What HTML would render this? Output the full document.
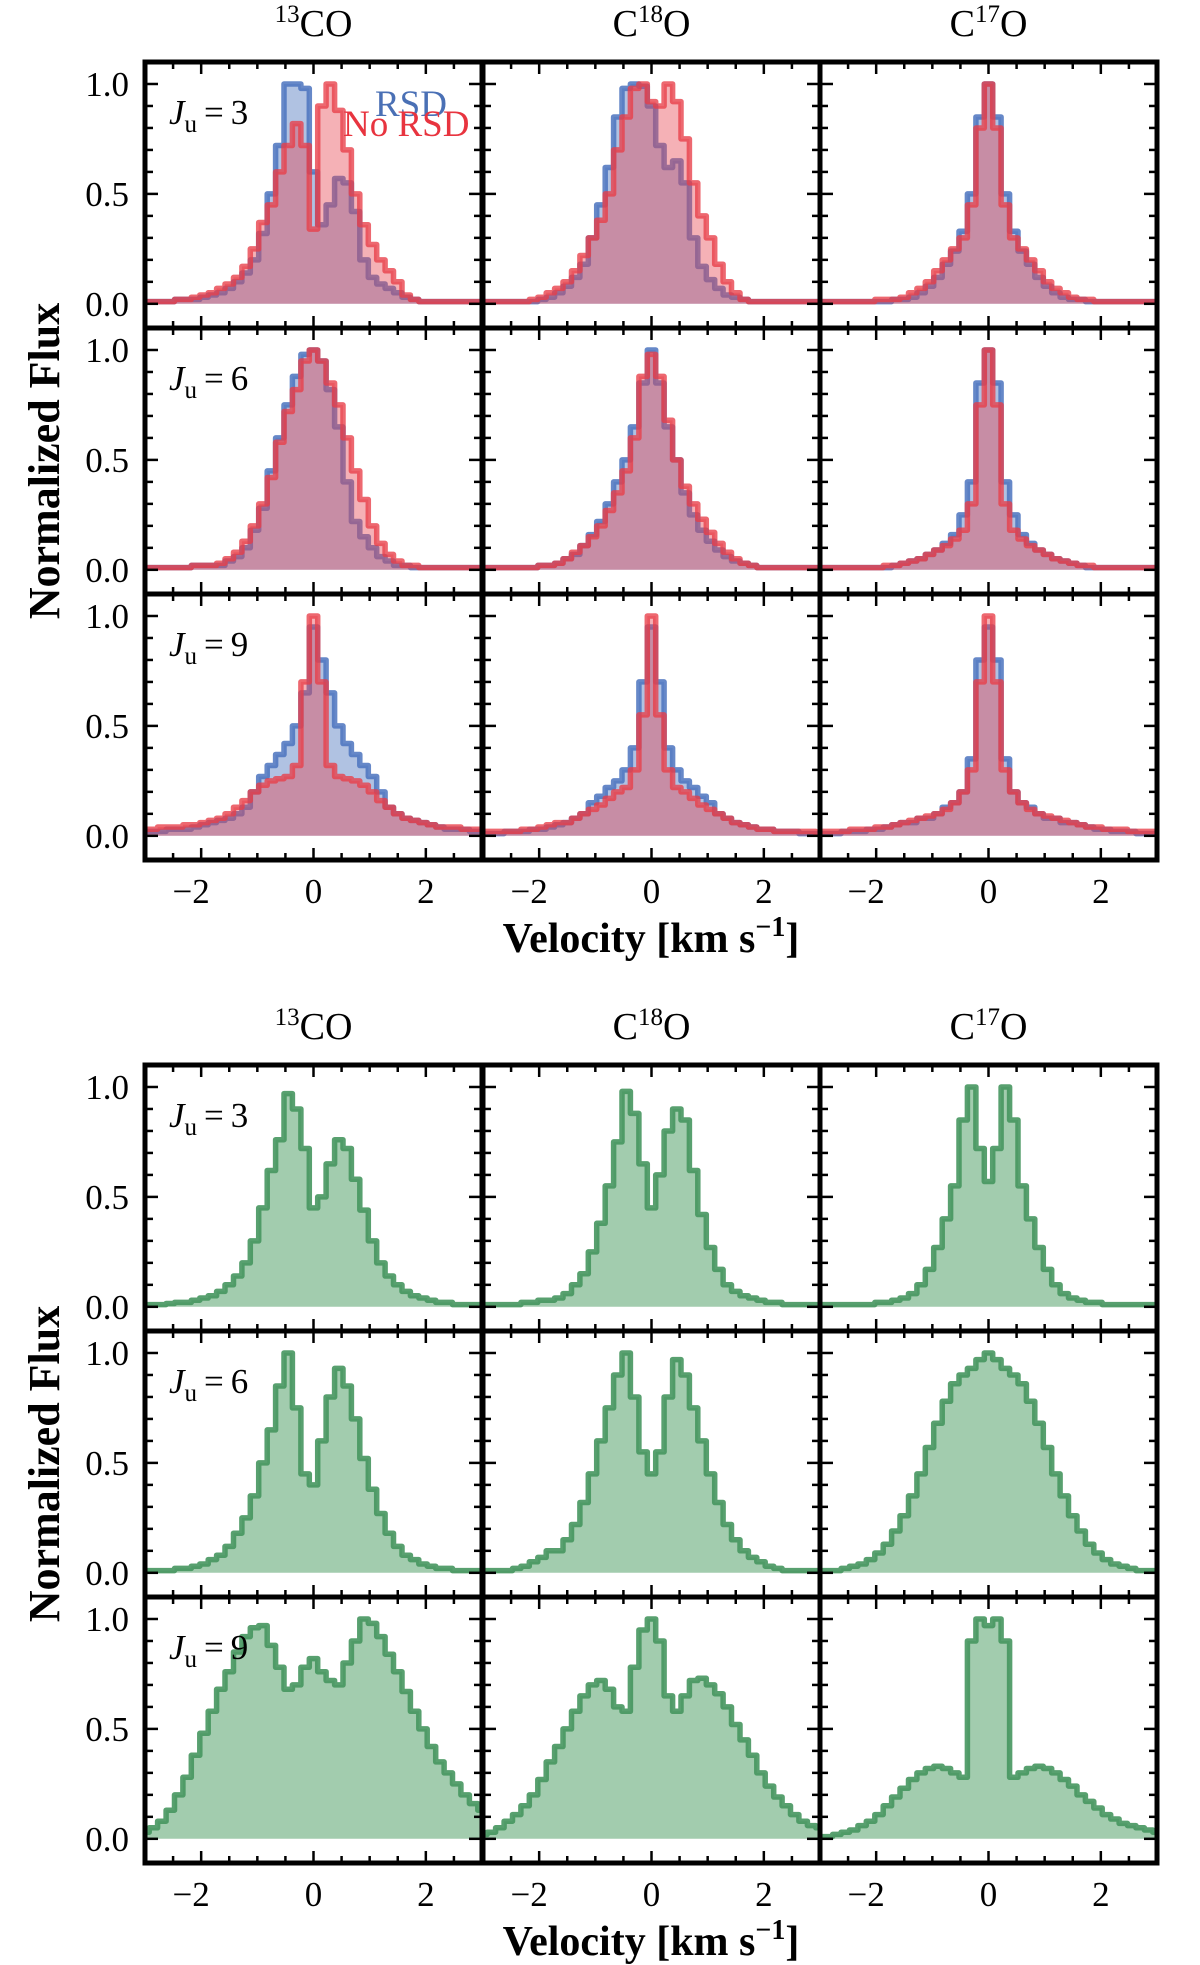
<!DOCTYPE html>
<html><head><meta charset="utf-8"><style>
html,body{margin:0;padding:0;background:#fff;}
svg{display:block;font-family:"Liberation Serif","DejaVu Serif",serif;}
</style></head><body>
<svg id="fig" width="1200" height="1965" viewBox="0 0 1200 1965" xmlns="http://www.w3.org/2000/svg"></svg>
<script>
// velocity bin centres: -3 .. 3 step 0.15 (41 bins)
const velocities = [-3,-2.85,-2.7,-2.55,-2.4,-2.25,-2.1,-1.95,-1.8,-1.65,-1.5,-1.35,-1.2,-1.05,-0.9,-0.75,-0.6,-0.45,-0.3,-0.15,0,0.15,0.3,0.45,0.6,0.75,0.9,1.05,1.2,1.35,1.5,1.65,1.8,1.95,2.1,2.25,2.4,2.55,2.7,2.85,3];
const species = ["13CO","C18O","C17O"];
const jLevels = ["3","6","9"];
const xTicks = [-2,0,2];
const yTicks = [0,0.5,1.0];
const yTickLabels = ["0.0","0.5","1.0"];

// Top block: RSD (blue) vs No RSD (red)
const rsd13co_j3 = [.01,.01,.01,.01,.02,.02,.02,.03,.04,.05,.07,.1,.14,.2,.32,.5,.72,1,1,.98,.6,.36,.45,.57,.55,.42,.2,.12,.09,.07,.05,.03,.02,.01,.01,.01,.01,.01,.01,.01,.01];
const nor13co_j3 = [.01,.01,.01,.01,.02,.02,.03,.04,.05,.07,.09,.12,.17,.25,.37,.45,.6,.72,.82,.72,.34,.9,1,.88,.7,.5,.36,.27,.2,.15,.1,.04,.02,.01,.01,.01,.01,.01,.01,.01,.01];
const rsdc18o_j3 = [.01,.01,.01,.01,.01,.01,.01,.02,.03,.05,.08,.12,.18,.3,.45,.62,.85,.98,1,.99,.9,.72,.62,.65,.55,.3,.17,.11,.07,.04,.03,.02,.01,.01,.01,.01,.01,.01,.01,.01,.01];
const norc18o_j3 = [.01,.01,.01,.01,.01,.01,.02,.03,.05,.07,.1,.15,.22,.3,.38,.5,.7,.85,.98,1,.92,.9,1,.92,.75,.55,.4,.3,.18,.1,.05,.02,.01,.01,.01,.01,.01,.01,.01,.01,.01];
const rsdc17o_j3 = [.01,.01,.01,.01,.01,.01,.01,.01,.01,.02,.02,.03,.05,.08,.12,.18,.24,.33,.5,.85,1,.85,.5,.33,.24,.18,.12,.08,.05,.03,.02,.02,.01,.01,.01,.01,.01,.01,.01,.01,.01];
const norc17o_j3 = [.01,.01,.01,.01,.01,.01,.01,.02,.02,.02,.03,.05,.07,.1,.15,.2,.25,.3,.45,.8,1,.8,.45,.3,.25,.2,.15,.1,.07,.05,.03,.02,.02,.01,.01,.01,.01,.01,.01,.01,.01];
const rsd13co_j6 = [.01,.01,.01,.01,.01,.01,.02,.02,.02,.02,.04,.06,.1,.18,.28,.45,.6,.75,.88,.98,1,.95,.82,.65,.4,.22,.15,.1,.06,.04,.02,.02,.01,.01,.01,.01,.01,.01,.01,.01,.01];
const nor13co_j6 = [.01,.01,.01,.01,.01,.01,.02,.02,.02,.03,.05,.08,.13,.2,.3,.42,.58,.72,.82,.95,1,.95,.85,.75,.6,.45,.32,.2,.12,.07,.04,.02,.02,.01,.01,.01,.01,.01,.01,.01,.01];
const rsdc18o_j6 = [.01,.01,.01,.01,.01,.01,.01,.02,.02,.03,.05,.07,.11,.16,.22,.3,.4,.5,.65,.85,1,.85,.65,.5,.35,.25,.18,.13,.09,.06,.04,.03,.02,.01,.01,.01,.01,.01,.01,.01,.01];
const norc18o_j6 = [.01,.01,.01,.01,.01,.01,.01,.02,.02,.03,.05,.08,.11,.15,.2,.27,.35,.45,.6,.88,.98,.88,.68,.5,.38,.3,.23,.17,.12,.08,.05,.03,.02,.01,.01,.01,.01,.01,.01,.01,.01];
const rsdc17o_j6 = [.01,.01,.01,.01,.01,.01,.01,.01,.01,.02,.03,.04,.05,.07,.09,.12,.16,.25,.4,.85,1,.85,.4,.25,.16,.12,.09,.07,.05,.04,.03,.02,.01,.01,.01,.01,.01,.01,.01,.01,.01];
const norc17o_j6 = [.01,.01,.01,.01,.01,.01,.01,.01,.02,.02,.03,.04,.05,.07,.09,.11,.14,.18,.3,.75,1,.75,.3,.18,.14,.11,.09,.07,.05,.04,.03,.02,.02,.01,.01,.01,.01,.01,.01,.01,.01];
const rsd13co_j9 = [.02,.02,.02,.03,.03,.03,.04,.05,.06,.07,.08,.1,.13,.2,.27,.32,.37,.42,.5,.65,.95,.8,.65,.5,.42,.37,.32,.27,.2,.13,.1,.08,.07,.06,.05,.04,.03,.03,.03,.02,.02];
const nor13co_j9 = [.03,.03,.04,.04,.04,.05,.05,.06,.07,.08,.1,.13,.16,.2,.23,.25,.26,.27,.32,.7,1,.7,.32,.27,.26,.25,.23,.2,.16,.13,.1,.08,.07,.06,.05,.04,.04,.04,.03,.03,.03];
const rsdc18o_j9 = [.01,.01,.01,.02,.02,.02,.03,.03,.04,.05,.06,.08,.1,.15,.18,.22,.25,.3,.4,.7,.95,.7,.4,.3,.25,.22,.18,.15,.1,.08,.06,.05,.04,.03,.03,.02,.02,.02,.01,.01,.01];
const norc18o_j9 = [.02,.02,.02,.02,.02,.03,.03,.04,.05,.06,.06,.08,.1,.12,.14,.17,.2,.22,.3,.55,1,.55,.3,.22,.2,.17,.14,.12,.1,.08,.06,.05,.04,.03,.03,.02,.02,.02,.02,.02,.01];
const rsdc17o_j9 = [.01,.01,.01,.02,.02,.02,.03,.03,.04,.05,.06,.06,.08,.08,.1,.13,.15,.2,.35,.8,.95,.8,.35,.2,.15,.13,.1,.08,.08,.06,.06,.05,.04,.03,.03,.02,.02,.02,.01,.01,.01];
const norc17o_j9 = [.02,.02,.02,.02,.03,.03,.03,.04,.04,.05,.06,.07,.08,.09,.1,.12,.15,.2,.3,.7,1,.7,.3,.2,.15,.12,.1,.09,.08,.07,.06,.05,.04,.04,.03,.03,.03,.02,.02,.02,.02];

// Bottom block: green profiles
const grn13co_j3 = [.01,.01,.01,.015,.02,.02,.03,.04,.05,.07,.1,.14,.2,.3,.45,.62,.76,.97,.9,.72,.45,.5,.65,.76,.72,.58,.44,.3,.2,.14,.1,.07,.05,.04,.03,.02,.02,.01,.01,.01,.01];
const grnc18o_j3 = [.01,.01,.01,.01,.01,.02,.02,.03,.03,.04,.06,.1,.15,.25,.38,.55,.75,.98,.88,.65,.45,.6,.8,.9,.85,.62,.42,.27,.17,.1,.07,.05,.04,.03,.02,.02,.01,.01,.01,.01,.01];
const grnc17o_j3 = [.01,.01,.01,.01,.01,.01,.01,.02,.02,.03,.04,.06,.1,.17,.27,.4,.55,.85,1,.72,.57,.72,1,.85,.55,.4,.27,.17,.1,.06,.04,.03,.02,.02,.01,.01,.01,.01,.01,.01,.01];
const grn13co_j6 = [.01,.01,.01,.01,.02,.02,.03,.04,.06,.08,.12,.18,.25,.35,.5,.65,.85,1,.75,.45,.4,.6,.8,.93,.85,.7,.52,.38,.27,.18,.12,.08,.06,.04,.03,.02,.02,.01,.01,.01,.01];
const grnc18o_j6 = [.01,.01,.01,.01,.02,.03,.05,.07,.1,.1,.15,.22,.32,.45,.6,.75,.9,1,.8,.55,.45,.55,.8,.97,.9,.75,.6,.45,.32,.22,.15,.1,.07,.05,.03,.02,.01,.01,.01,.01,.01];
const grnc17o_j6 = [.01,.01,.01,.02,.03,.04,.06,.09,.13,.19,.26,.35,.45,.57,.68,.78,.86,.9,.93,.97,1,.97,.93,.9,.86,.78,.68,.57,.45,.35,.26,.19,.13,.09,.06,.04,.03,.02,.01,.01,.01];
const grn13co_j9 = [.03,.05,.08,.13,.2,.28,.38,.48,.58,.68,.76,.85,.92,.96,.97,.88,.78,.68,.7,.78,.82,.76,.72,.7,.8,.9,1,.98,.92,.84,.76,.67,.58,.5,.42,.35,.3,.25,.2,.16,.13];
const grnc18o_j9 = [.02,.03,.05,.08,.11,.15,.2,.27,.35,.42,.5,.58,.65,.7,.72,.68,.6,.58,.78,.95,1,.9,.65,.58,.65,.72,.73,.7,.66,.6,.52,.45,.38,.3,.24,.19,.15,.11,.08,.06,.05];
const grnc17o_j9 = [.01,.01,.02,.03,.04,.06,.08,.11,.15,.19,.23,.27,.3,.32,.33,.32,.3,.28,.9,1,.97,1,.9,.28,.3,.32,.33,.32,.3,.27,.24,.2,.17,.14,.11,.09,.07,.06,.05,.04,.03];

const topSeries = [
  [[rsd13co_j3,nor13co_j3],[rsdc18o_j3,norc18o_j3],[rsdc17o_j3,norc17o_j3]],
  [[rsd13co_j6,nor13co_j6],[rsdc18o_j6,norc18o_j6],[rsdc17o_j6,norc17o_j6]],
  [[rsd13co_j9,nor13co_j9],[rsdc18o_j9,norc18o_j9],[rsdc17o_j9,norc17o_j9]]
];
const botSeries = [
  [grn13co_j3,grnc18o_j3,grnc17o_j3],
  [grn13co_j6,grnc18o_j6,grnc17o_j6],
  [grn13co_j9,grnc18o_j9,grnc17o_j9]
];

const NS = "http://www.w3.org/2000/svg";
const svg = document.getElementById("fig");
function el(tag, attrs, parent, text){
  const e = document.createElementNS(NS, tag);
  for (const k in attrs) e.setAttribute(k, attrs[k]);
  if (text !== undefined) e.textContent = text;
  (parent || svg).appendChild(e);
  return e;
}
const colLeft = [145, 483, 820];
const colW = 337;
const rowH = 266;
const XMIN=-3, XMAX=3, YMIN=-0.11, YMAX=1.1;
const BIN = 0.15;

function makeScales(x0,y0){
  return {
    sx: v => x0 + (v - XMIN)/(XMAX-XMIN)*colW,
    sy: f => y0 + (YMAX - f)/(YMAX-YMIN)*rowH
  };
}
function stepPath(vals, s){
  let d = "";
  for (let i=0;i<velocities.length;i++){
    const a = Math.max(XMIN, velocities[i]-BIN/2), b = Math.min(XMAX, velocities[i]+BIN/2);
    const y = s.sy(vals[i]).toFixed(1);
    d += (i===0 ? "M" : "L") + s.sx(a).toFixed(1) + "," + y + "L" + s.sx(b).toFixed(1) + "," + y;
  }
  return d;
}
function drawSeries(g, vals, s, fill, stroke, name){
  const line = stepPath(vals, s);
  const area = line + "L" + s.sx(XMAX).toFixed(1) + "," + s.sy(0).toFixed(1) + "L" + s.sx(XMIN).toFixed(1) + "," + s.sy(0).toFixed(1) + "Z";
  const fa = el("path", {d: area, fill: fill, stroke: "none"}, g);
  
  
  const ln = el("path", {d: line, fill: "none", stroke: stroke, "stroke-width": 5.5, "stroke-linejoin": "round"}, g);
  
  
}
function drawFrame(g, x0, y0, s){
  for (let v=-2.5; v<=2.51; v+=0.5){
    const X = s.sx(v);
    const major = Math.abs(Math.round(v)-v)<1e-6 && Math.round(v)%2===0;
    const L = major ? 12 : 7;
    el("line",{x1:X,y1:y0,x2:X,y2:y0+L,stroke:"#000","stroke-width":2.5},g);
    el("line",{x1:X,y1:y0+rowH,x2:X,y2:y0+rowH-L,stroke:"#000","stroke-width":2.5},g);
  }
  for (let k=0;k<=10;k++){
    const f = k/10, Y = s.sy(f);
    const major = (k%5===0);
    const L = major ? 13 : 8;
    el("line",{x1:x0,y1:Y,x2:x0+L,y2:Y,stroke:"#000","stroke-width":2.5},g);
    el("line",{x1:x0+colW,y1:Y,x2:x0+colW-L,y2:Y,stroke:"#000","stroke-width":2.5},g);
  }
  const fr = el("rect",{x:x0,y:y0,width:colW,height:rowH,fill:"none",stroke:"#000","stroke-width":5},g);
  
  
}

function drawBlock(top, isTop, blockName){
  const blk = el("g", { });
  for (let c=0;c<3;c++){
    const cx = colLeft[c] + colW/2;
    const t = el("text",{x:cx,y:top-26,"text-anchor":"middle","font-size":38},blk);
    
    
    if (c===0){
      el("tspan",{"font-size":25,dy:-14},t,"13");
      el("tspan",{dy:14},t,"CO");
    } else {
      el("tspan",{},t,"C");
      el("tspan",{"font-size":25,dy:-14},t,c===1?"18":"17");
      el("tspan",{dy:14},t,"O");
    }
  }
  for (let r=0;r<3;r++){
    const y0 = top + r*rowH;
    for (let c=0;c<3;c++){
      const x0 = colLeft[c];
      const s = makeScales(x0,y0);
      const g = el("g",{},blk);
      
      
      const cid = blockName + "-clip-" + r + c;
      const cp = el("clipPath",{id:cid},g);
      el("rect",{x:x0,y:y0,width:colW,height:rowH},cp);
      const gg = el("g",{"clip-path":"url(#"+cid+")"},g);
      if (isTop){
        drawSeries(gg, topSeries[r][c][0], s, "rgba(80,120,190,0.45)", "rgba(75,115,190,0.85)", "rsd-series");
        drawSeries(gg, topSeries[r][c][1], s, "rgba(230,70,80,0.42)", "rgba(232,62,72,0.78)", "no-rsd-series");
      } else {
        drawSeries(gg, botSeries[r][c], s, "rgba(100,170,120,0.6)", "rgba(70,150,95,0.9)", "green-series");
      }
      drawFrame(g, x0, y0, s);
      if (c===0){
        for (let k=0;k<yTicks.length;k++){
          const yt = el("text",{x:x0-16,y:s.sy(yTicks[k])+12,"text-anchor":"end","font-size":35},blk,yTickLabels[k]);
          
          
        }
        const jl = el("text",{x:x0+24,y:y0+62,"font-size":35},blk);
        
        
        el("tspan",{"font-style":"italic"},jl,"J");
        el("tspan",{"font-size":25,dy:8},jl,"u");
        el("tspan",{dy:-8},jl,"\u2009=\u2009" + jLevels[r]);
      }
      if (r===2){
        for (const xv of xTicks){
          const xt = el("text",{x:s.sx(xv)+(xv<0?-10:0),y:y0+rowH+43,"text-anchor":"middle","font-size":35},blk,xv<0?"\u2212"+Math.abs(xv):String(xv));
          
          
        }
      }
    }
  }
  const xl = el("text",{x:651,y:top+3*rowH+92,"text-anchor":"middle","font-size":42,"font-weight":"bold"},blk);
  
  
  el("tspan",{},xl,"Velocity [km s");
  el("tspan",{"font-size":28,dy:-16},xl,"\u22121");
  el("tspan",{dy:16},xl,"]");
  const yc = top + 1.5*rowH;
  const yl = el("text",{x:44,y:yc,"text-anchor":"middle","font-size":44,"font-weight":"bold",transform:"rotate(-90 44 "+yc+") translate(0 15)"},blk,"Normalized Flux");
  
  
}

drawBlock(62, true, "top-block");
drawBlock(1065, false, "bottom-block");

const leg1 = el("text",{x:375,y:116,"font-size":37,fill:"#4a70b5"},svg,"RSD");


const leg2 = el("text",{x:343,y:136,"font-size":37,fill:"#e8343f"},svg,"No RSD");


</script>
</body></html>
